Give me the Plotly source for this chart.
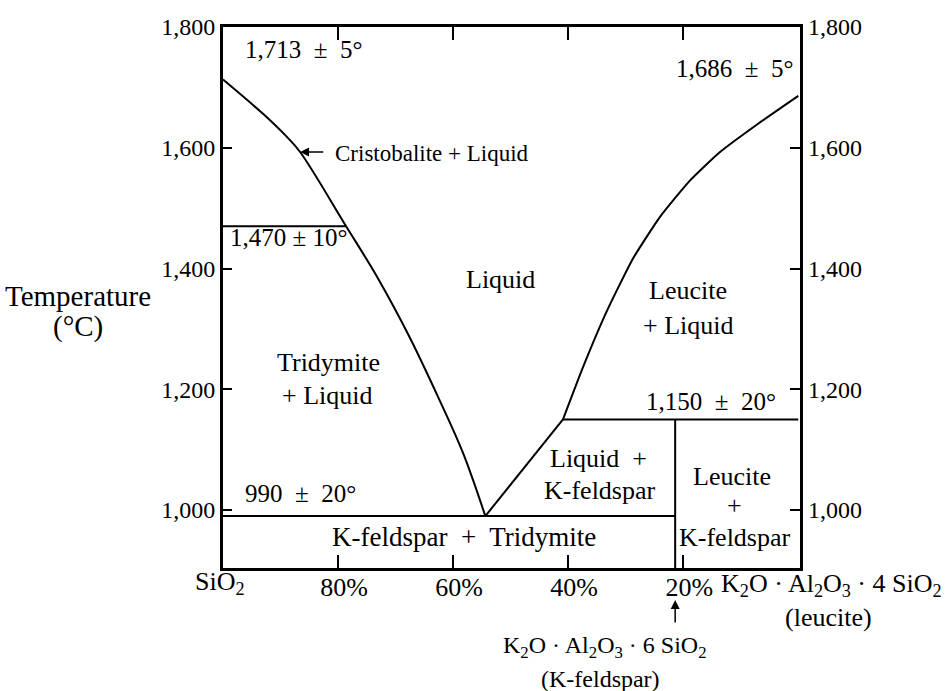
import plotly.graph_objects as go

# Phase diagram of the system SiO2 - KAlSi2O6 (leucite)
# x: weight % SiO2 (SiO2 at left, leucite at right), y: temperature in degC

# Liquidus of the silica phases (cristobalite / tridymite)
silica_liq_x = [100, 92.9, 89.1, 86.6, 78.6, 73.2, 67.6, 62.6, 58.3, 54.4]
silica_liq_t = [1713, 1655, 1620, 1593, 1470, 1386, 1287, 1187, 1095, 990]

# Liquidus of K-feldspar (eutectic -> peritectic)
kspar_liq_x = [54.4, 40.9]
kspar_liq_t = [990, 1150]

# Liquidus of leucite (peritectic -> leucite melting point)
leucite_liq_x = [40.9, 37.4, 33.2, 28.7, 24.0, 18.8, 13.6, 7.1, 0]
leucite_liq_t = [1150, 1237, 1331, 1417, 1486, 1546, 1593, 1639, 1686]

# Isotherms and composition lines
cristobalite_tridymite_t = 1470
eutectic_t = 990
peritectic_t = 1150
kfeldspar_x = 21.4

# Axes
t_min, t_max = 904, 1800
t_ticks = [1000, 1200, 1400, 1600, 1800]
t_labels = ["1,000", "1,200", "1,400", "1,600", "1,800"]
x_ticks = [80, 60, 40, 20]
x_labels = ["80%", "60%", "40%", "20%"]

FONT = "Liberation Serif"
SZ = 26
NB = "\u00a0"
LINE = dict(color="black", width=2)

fig = go.Figure()

fig.add_trace(go.Scatter(x=silica_liq_x, y=silica_liq_t, mode="lines",
                         line=dict(color="black", width=2, shape="spline", smoothing=1.0)))
fig.add_trace(go.Scatter(x=kspar_liq_x, y=kspar_liq_t, mode="lines", line=LINE))
fig.add_trace(go.Scatter(x=leucite_liq_x, y=leucite_liq_t, mode="lines",
                         line=dict(color="black", width=2, shape="spline", smoothing=0.5)))
# 1470 inversion line
fig.add_trace(go.Scatter(x=[100, silica_liq_x[4]],
                         y=[cristobalite_tridymite_t, cristobalite_tridymite_t],
                         mode="lines", line=LINE))
# eutectic line
fig.add_trace(go.Scatter(x=[100, kfeldspar_x], y=[eutectic_t, eutectic_t],
                         mode="lines", line=LINE))
# peritectic line
fig.add_trace(go.Scatter(x=[kspar_liq_x[-1], 0], y=[peritectic_t, peritectic_t],
                         mode="lines", line=LINE))
# K-feldspar composition
fig.add_trace(go.Scatter(x=[kfeldspar_x, kfeldspar_x], y=[t_min, peritectic_t],
                         mode="lines", line=LINE))
# right-hand temperature scale
fig.add_trace(go.Scatter(x=[None], y=[None], yaxis="y2", mode="lines"))


def label(text, x, y, xanchor="center", size=SZ):
    fig.add_annotation(text=text, x=x, y=y, xanchor=xanchor, yanchor="middle",
                       showarrow=False, font=dict(family=FONT, size=size, color="black"))


label(f"1,713 {NB}±{NB} 5°", 96.5, 1762, xanchor="left", size=25)
label("Cristobalite + Liquid", 80.9, 1591, xanchor="left", size=23)
label("1,470 ± 10°", 99.1, 1452, xanchor="left", size=25)
label("Liquid", 51.8, 1381)
label("Tridymite", 81.7, 1245)
label("+ Liquid", 81.9, 1189)
label("Leucite", 19.1, 1363)
label("+ Liquid", 19.1, 1305)
label(f"1,686 {NB}±{NB} 5°", 0.5, 1732, xanchor="right", size=25)
label(f"1,150 {NB}±{NB} 20°", 3.5, 1179, xanchor="right", size=25)
label(f"Liquid {NB}+", 34.8, 1086)
label("K-feldspar", 34.4, 1033)
label("Leucite", 11.5, 1055)
label("+", 11.0, 1007)
label("K-feldspar", 11.0, 955)
label(f"990 {NB}±{NB} 20°", 96.5, 1027, xanchor="left", size=25)
label(f"K-feldspar {NB}+{NB} Tridymite", 58.1, 955, size=27)

# arrow to the cristobalite liquidus
fig.add_annotation(x=86.6, y=1593, ax=82.3, ay=1593, axref="x", ayref="y",
                   text="", showarrow=True, arrowhead=2, arrowsize=1.2,
                   arrowwidth=1.5, arrowcolor="black")


# composition labels under the axis
def below(text, x, y, xref="x", size=SZ):
    fig.add_annotation(text=text, x=x, y=y, xref=xref, yref="paper",
                       xanchor="center", yanchor="middle", showarrow=False,
                       font=dict(family=FONT, size=size, color="black"))


below("SiO<sub>2</sub>", -0.005, -0.028, xref="paper")
below("K<sub>2</sub>O · Al<sub>2</sub>O<sub>3</sub> · 4 SiO<sub>2</sub>", 1.055, -0.031, xref="paper")
below("(leucite)", 1.050, -0.092, xref="paper")
below("K<sub>2</sub>O · Al<sub>2</sub>O<sub>3</sub> · 6 SiO<sub>2</sub>", 33.6, -0.146, size=24)
below("(K-feldspar)", 34.4, -0.205, size=24)
fig.add_annotation(x=kfeldspar_x, y=-0.059, xref="x", yref="paper", ax=0, ay=24,
                   text="", showarrow=True, arrowhead=2, arrowsize=1.2,
                   arrowwidth=1.5, arrowcolor="black")

for txt, yy in (("Temperature", 0.503), ("(°C)", 0.446)):
    fig.add_annotation(text=txt, x=-0.251, y=yy, xref="paper", yref="paper",
                       xanchor="center", yanchor="middle", showarrow=False,
                       font=dict(family=FONT, size=29, color="black"))

fig.update_layout(
    width=946, height=691,
    margin=dict(l=223, r=146, t=27, b=123),
    paper_bgcolor="white", plot_bgcolor="white",
    showlegend=False,
    font=dict(family=FONT, size=SZ, color="black"),
    xaxis=dict(range=[100, -0.3], tickvals=x_ticks, ticktext=x_labels,
               tickfont=dict(family=FONT, size=26, color="black"),
               ticklabelshift=-6, ticklabelstandoff=-6,
               ticks="inside", ticklen=13, tickwidth=2, tickcolor="black",
               showline=True, linewidth=3, linecolor="black", mirror="ticks",
               showgrid=False, zeroline=False, fixedrange=True),
    yaxis=dict(range=[t_min, t_max], tickvals=t_ticks, ticktext=t_labels,
               tickfont=dict(family=FONT, size=24, color="black"),
               ticks="inside", ticklen=9, tickwidth=2, tickcolor="black",
               showline=True, linewidth=3, linecolor="black", mirror=True,
               showgrid=False, zeroline=False, fixedrange=True),
    yaxis2=dict(range=[t_min, t_max], tickvals=t_ticks, ticktext=t_labels,
                tickfont=dict(family=FONT, size=24, color="black"),
                overlaying="y", side="right", matches="y", ticklabelstandoff=7,
                ticks="inside", ticklen=10, tickwidth=2, tickcolor="black",
                showline=False, showgrid=False, zeroline=False, fixedrange=True),
)

fig.write_html("out.html")
